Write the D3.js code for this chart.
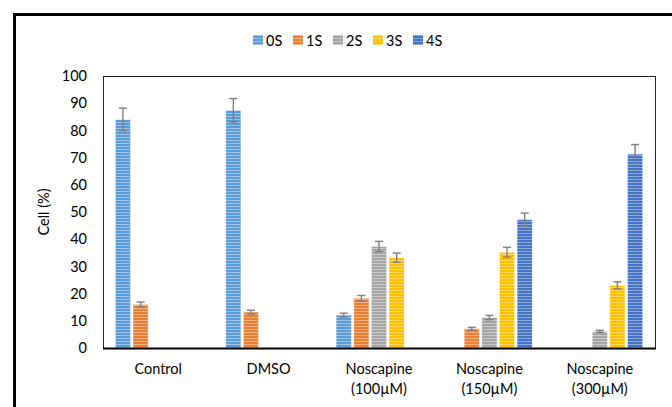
<!DOCTYPE html>
<html>
<head>
<meta charset="utf-8">
<script src="https://cdn.jsdelivr.net/npm/d3@7/dist/d3.min.js"></script>
<style>
  html, body { margin: 0; padding: 0; background: #fff; }
  svg { display: block; font-family: Lato, "Open Sans", sans-serif; }
</style>
</head>
<body>
<svg id="chart" width="672" height="407"></svg>
<script>
// Cell-cycle distribution per treatment (mean % with error)
const categories = ["Control", "DMSO", "Noscapine\n(100\u00b5M)", "Noscapine\n(150\u00b5M)", "Noscapine\n(300\u00b5M)"];
const seriesNames = ["0S", "1S", "2S", "3S", "4S"];
const seriesColors = ["#5B9BD5", "#ED7D31", "#A5A5A5", "#FFC000", "#4472C4"];
// values[series][category]; null = no bar
const values0S = [84, 87.4, 12.1, null, null];
const values1S = [16, 13.2, 18.3, 7.1, null];
const values2S = [null, null, 37.3, 11.2, 6.1];
const values3S = [null, null, 33.2, 35.2, 23];
const values4S = [null, null, null, 47.2, 71.3];
const errors0S = [4.2, 4.3, 0.7, null, null];
const errors1S = [0.9, 0.7, 1.0, 0.5, null];
const errors2S = [null, null, 1.9, 0.8, 0.4];
const errors3S = [null, null, 1.7, 1.8, 1.3];
const errors4S = [null, null, null, 2.4, 3.5];
const yTicks = [0, 10, 20, 30, 40, 50, 60, 70, 80, 90, 100];
const yLabel = "Cell (%)";

const allValues = [values0S, values1S, values2S, values3S, values4S];
const allErrors = [errors0S, errors1S, errors2S, errors3S, errors4S];

const svg = d3.select("#chart");
const plot = { left: 103, right: 655, top: 76, bottom: 348 };

// Outer frame (runs off the right and bottom edges)
svg.append("rect")
  .attr("x", 14.5).attr("y", 14.5)
  .attr("width", 700).attr("height", 450)
  .attr("fill", "none").attr("stroke", "#000").attr("stroke-width", 3);

// Striped fills
const defs = svg.append("defs");
seriesColors.forEach((c, i) => {
  const p = defs.append("pattern")
    .attr("id", "stripe" + i)
    .attr("patternUnits", "userSpaceOnUse")
    .attr("width", 6).attr("height", 3);
  p.append("rect").attr("width", 6).attr("height", 3).attr("fill", c);
  p.append("rect").attr("y", 2).attr("width", 6).attr("height", 1)
    .attr("fill", "#fff").attr("opacity", 0.4);
});

const x0 = d3.scaleBand().domain(d3.range(categories.length))
  .range([plot.left, plot.right]).padding(0);
const x1 = d3.scaleBand().domain(d3.range(seriesNames.length))
  .range([0, x0.bandwidth()]).paddingInner(0.14).paddingOuter(0.7);
const y = d3.scaleLinear().domain([0, 100]).range([plot.bottom, plot.top]);

// Plot box
svg.append("rect")
  .attr("x", plot.left + 0.5).attr("y", plot.top + 0.5)
  .attr("width", plot.right - plot.left).attr("height", plot.bottom - plot.top)
  .attr("fill", "none").attr("stroke", "#222").attr("stroke-width", 1);

// Bars
const barData = [];
allValues.forEach((vals, s) => vals.forEach((v, c) => {
  if (v != null) barData.push({ s, c, v, e: allErrors[s][c] });
}));

svg.append("g").selectAll("rect").data(barData).join("rect")
  .attr("x", d => x0(d.c) + x1(d.s))
  .attr("y", d => y(d.v))
  .attr("width", x1.bandwidth())
  .attr("height", d => y(0) - y(d.v))
  .attr("fill", d => `url(#stripe${d.s})`)
  .attr("stroke", "#fff").attr("stroke-opacity", 0.5).attr("stroke-width", 0.8);

// Error bars
const eb = svg.append("g").attr("stroke", "#7f7f7f").attr("stroke-width", 1.4);
barData.forEach(d => {
  const cx = x0(d.c) + x1(d.s) + x1.bandwidth() / 2;
  const yt = y(d.v + d.e), yb = y(d.v - d.e);
  eb.append("line").attr("x1", cx).attr("x2", cx).attr("y1", yt).attr("y2", yb);
  eb.append("line").attr("x1", cx - 4).attr("x2", cx + 4).attr("y1", yt).attr("y2", yt);
  eb.append("line").attr("x1", cx - 4).attr("x2", cx + 4).attr("y1", yb).attr("y2", yb);
});

// Baseline
svg.append("line")
  .attr("x1", plot.left).attr("x2", plot.right + 1)
  .attr("y1", plot.bottom + 0.5).attr("y2", plot.bottom + 0.5)
  .attr("stroke", "#000").attr("stroke-width", 2.2);

// Y axis labels
const yAxis = d3.axisLeft(y).tickValues(yTicks).tickSize(0).tickPadding(16);
const yg = svg.append("g").attr("transform", `translate(${plot.left},0)`).call(yAxis);
yg.select(".domain").remove();
yg.selectAll("text").attr("font-size", 14.5).attr("fill", "#000")
  .attr("font-family", "Lato, sans-serif");

// Y title
svg.append("text")
  .attr("transform", `translate(49,${(plot.top + plot.bottom) / 2}) rotate(-90)`)
  .attr("text-anchor", "middle")
  .attr("font-size", 14.5).attr("fill", "#000")
  .text(yLabel);

// Category labels
const xl = svg.append("g");
categories.forEach((c, i) => {
  const t = xl.append("text")
    .attr("x", x0(i) + x0.bandwidth() / 2)
    .attr("y", 374)
    .attr("text-anchor", "middle")
    .attr("font-size", 14.5).attr("fill", "#000");
  c.split("\n").forEach((line, k) => {
    t.append("tspan").attr("x", x0(i) + x0.bandwidth() / 2)
      .attr("dy", k === 0 ? 0 : 19.5).text(line);
  });
});

// Legend
const legend = svg.append("g");
seriesNames.forEach((n, i) => {
  const lx = 253 + i * 40;
  legend.append("rect").attr("x", lx).attr("y", 35)
    .attr("width", 10).attr("height", 10)
    .attr("fill", `url(#stripe${i})`);
  legend.append("text").attr("x", lx + 13).attr("y", 45.5)
    .attr("font-size", 14.5).attr("fill", "#000").text(n);
});
</script>
</body>
</html>
